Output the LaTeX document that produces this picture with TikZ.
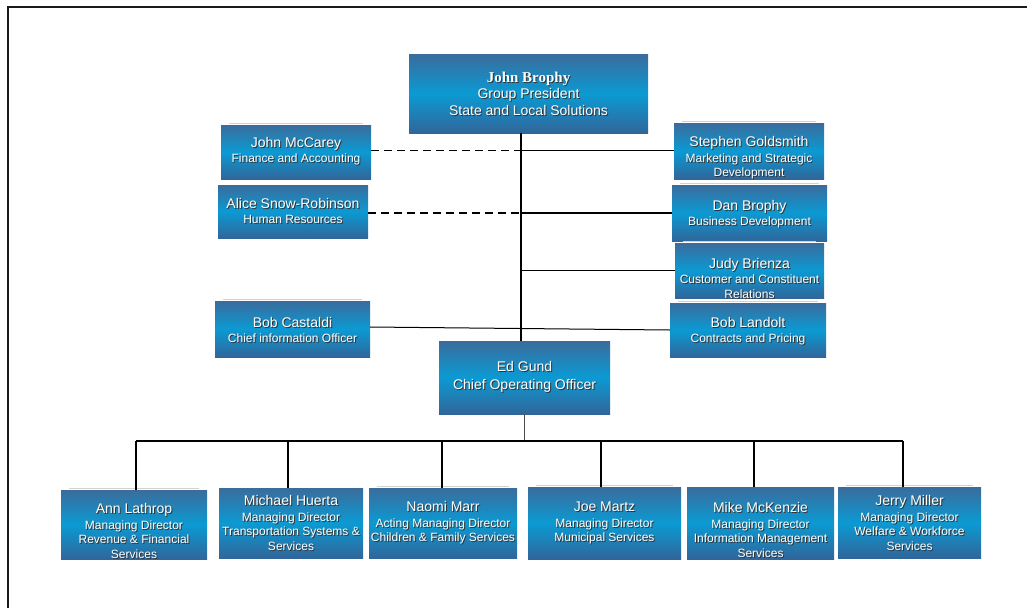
\documentclass[tikz,border=0pt]{standalone}
\usepackage{fontspec}
\setmainfont{Liberation Sans}
\newfontfamily\headserif{Liberation Serif}
\definecolor{unitTop}{HTML}{3A6C9C}
\definecolor{unitMid}{HTML}{0B9AD3}
\definecolor{unitBot}{HTML}{30669A}
\definecolor{frameInk}{HTML}{1A1A1A}

% name line of a unit label
\newcommand\nm[1]{{\fontsize{14}{16}\selectfont #1}}

% #1 name, #2-#5 box corners (x1,y1,x2,y2), #6 label centre y, #7 label
\newcommand\orgunit[7]{%
  \node[unitbox, minimum width={(#4-#2)*1pt}, minimum height={(#5-#3)*1pt}]
    (#1) at ({(#2+#4)/2},{(#3+#5)/2}) {};
  \node[unittext, text=black!80] (#1-shadow) at ({(#2+#4)/2+1},{#6+1}) {#7};
  \node[unittext] (#1-label) at ({(#2+#4)/2},{#6}) {#7};
}
% faint rule just above the top edge of a box
\newcommand\topedge[1]{%
  \draw[edgeline] ([xshift=8pt,yshift=1.5pt]#1.north west) -- ([xshift=-8pt,yshift=1.5pt]#1.north east);
}

\begin{document}
\begin{tikzpicture}[x=1pt,y=-1pt,
  unitbox/.style={inner sep=0pt, outer sep=0pt, draw=none,
    top color=unitTop, bottom color=unitBot, middle color=unitMid},
  unittext/.style={inner sep=0pt, align=center, text=white,
    font=\fontsize{12}{14.5}\selectfont},
  edgeline/.style={draw=gray!35, line width=1pt},
  conn/.style={draw=black, line width=1.4pt},
  thinconn/.style={draw=black, line width=1pt},
  dashconn/.style={draw=black, line width=1.8pt, dash pattern=on 8pt off 5pt}]

\useasboundingbox (0,0) rectangle (1027,608);

% page frame
\draw[frameInk, line width=2pt] (8,608) -- (8,7) -- (1027,7);

% executive level
\orgunit{brophy}{409}{54}{648}{133}{93.5}{%
  {\headserif\bfseries\fontsize{15}{16}\selectfont John Brophy}\\[2pt]
  \fontsize{14}{16.5}\selectfont Group President\\[2pt]
  \fontsize{14}{16.5}\selectfont State and Local Solutions}

% staff on the left
\orgunit{mccarey}{221}{125}{371}{179}{151}{\nm{John McCarey}\\[1pt]Finance and Accounting}
\orgunit{snow}{218}{185}{368}{238}{211}{\nm{Alice Snow-Robinson}\\[1pt]Human Resources}
\orgunit{castaldi}{215}{301}{370}{357}{330}{\nm{Bob Castaldi}\\[1pt]Chief information Officer}

% staff on the right
\orgunit{goldsmith}{674}{123}{824}{179}{158}{\nm{Stephen Goldsmith}\\[1pt]Marketing and Strategic\\Development}
\orgunit{dbrophy}{672}{185}{827}{241}{214}{\nm{Dan Brophy}\\[1pt]Business Development}
\orgunit{brienza}{675}{243}{824}{298}{278}{\nm{Judy Brienza}\\[1pt]Customer and Constituent\\Relations}
\orgunit{landolt}{670}{303}{826}{357}{331}{\nm{Bob Landolt}\\[1pt]Contracts and Pricing}

% operations
\orgunit{gund}{439}{341}{610}{414}{377}{%
  \fontsize{14}{17}\selectfont Ed Gund\\[3pt]\fontsize{14}{17}\selectfont Chief Operating Officer}

% managing directors
\orgunit{lathrop}{61}{490}{207}{559}{531}{\nm{Ann Lathrop}\\[1pt]Managing Director\\Revenue \& Financial\\Services}
\orgunit{huerta}{219}{488}{363}{558}{523}{\nm{Michael Huerta}\\[1pt]Managing Director\\Transportation Systems \&\\Services}
\orgunit{marr}{369}{488}{517}{558}{523}{\nm{Naomi Marr}\\[1pt]Acting Managing Director\\Children \& Family Services}
\orgunit{martz}{528}{487}{681}{559}{523}{\nm{Joe Martz}\\[1pt]Managing Director\\Municipal Services}
\orgunit{mckenzie}{687}{487}{834}{559}{530}{\nm{Mike McKenzie}\\[1pt]Managing Director\\Information Management\\Services}
\orgunit{miller}{838}{487}{981}{558}{523}{\nm{Jerry Miller}\\[1pt]Managing Director\\Welfare \& Workforce\\Services}

\foreach \u in {mccarey,castaldi,goldsmith,dbrophy,brienza,landolt,lathrop,marr,martz,miller}
  {\topedge{\u}}

% reporting lines
\coordinate (spine) at (521,0);
\coordinate (bus) at (0,441);
\draw[conn] (brophy.south -| spine) -- (gund.north -| spine);

\draw[dashconn] ([yshift=1.5pt]mccarey.east) -- ([yshift=1.5pt]mccarey.east -| spine);
\draw[conn] ([yshift=1.5pt]mccarey.east -| spine) -- ([yshift=1.5pt]mccarey.east -| goldsmith.west);
\draw[dashconn] (dbrophy.west -| snow.east) -- (dbrophy.west -| spine);
\draw[conn] (dbrophy.west -| spine) -- (dbrophy.west);
\draw[conn] (brienza.west -| spine) -- (brienza.west);
\draw[thinconn] ([yshift=2pt]castaldi.east) -- (landolt.west);

% operations bus
\draw[draw=black!70, line width=1pt] (gund.south) -- (gund.south |- bus);
\coordinate (dropA) at (136,441);
\coordinate (dropB) at (288,441);
\coordinate (dropC) at (442,441);
\coordinate (dropD) at (601,441);
\coordinate (dropE) at (754,441);
\coordinate (dropF) at (903,441);
\draw[conn, line width=1.8pt] (dropA) -- (dropF);
\draw[conn, line width=1.8pt] (dropA) -- (dropA |- lathrop.north);
\draw[conn, line width=1.8pt] (dropB) -- (dropB |- huerta.north);
\draw[conn, line width=1.8pt] (dropC) -- (dropC |- marr.north);
\draw[conn, line width=1.8pt] (dropD) -- (dropD |- martz.north);
\draw[conn, line width=1.8pt] (dropE) -- (dropE |- mckenzie.north);
\draw[conn, line width=1.8pt] (dropF) -- (dropF |- miller.north);
\end{tikzpicture}
\end{document}
